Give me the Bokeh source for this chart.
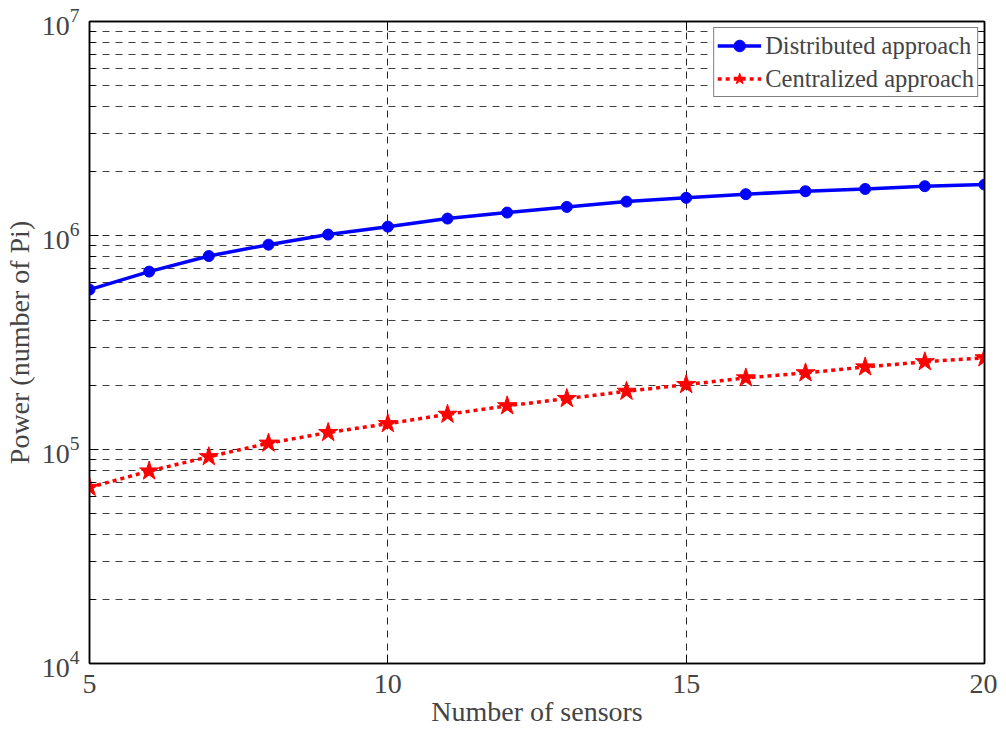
from bokeh.plotting import figure
from bokeh.models import (FixedTicker, LogTickFormatter, BasicTickFormatter, LogAxis, LinearAxis,
                          Range1d, Legend, LegendItem)
from bokeh.embed import file_html
from bokeh.resources import INLINE

sensors = [5, 6, 7, 8, 9, 10, 11, 12, 13, 14, 15, 16, 17, 18, 19, 20]
distributed = [5.59e5, 6.78e5, 8.02e5, 9.06e5, 1.01e6, 1.10e6, 1.20e6, 1.28e6,
               1.36e6, 1.44e6, 1.50e6, 1.56e6, 1.61e6, 1.65e6, 1.70e6, 1.73e6]
centralized = [6.65e4, 7.93e4, 9.25e4, 1.07e5, 1.20e5, 1.32e5, 1.46e5, 1.60e5,
               1.73e5, 1.87e5, 2.01e5, 2.16e5, 2.28e5, 2.43e5, 2.57e5, 2.68e5]
x_ticks = [5, 10, 15, 20]
y_ticks = [1e4, 1e5, 1e6, 1e7]
y_minor = [m * d for d in [1e4, 1e5, 1e6] for m in range(2, 10)]

FONT = "Liberation Serif"

p = figure(frame_width=895, frame_height=642, x_range=Range1d(5, 20), y_range=Range1d(1e4, 1e7),
           y_axis_type="log", output_backend="svg", toolbar_location=None,
           min_border_left=82, min_border_right=13, min_border_top=21, min_border_bottom=40)
p.background_fill_color = "white"
p.border_fill_color = "white"
p.outline_line_color = "black"
p.outline_line_width = 1.5

# axes styling
xa = p.xaxis[0]
xa.ticker = FixedTicker(ticks=x_ticks)
xa.axis_label = "Number of sensors"
ya = p.yaxis[0]
ya.ticker = FixedTicker(ticks=y_ticks, minor_ticks=y_minor)
ya.formatter = LogTickFormatter()
ya.axis_label = "Power (number of Pi)"

for ax in (xa, ya):
    ax.axis_label_text_font = FONT
    ax.axis_label_text_font_style = "normal"
    ax.axis_label_text_font_size = "28px"
    ax.major_label_text_font = FONT
    ax.major_label_text_font_size = "28px"
    ax.axis_line_color = "black"
    ax.axis_line_width = 1.5
    ax.major_tick_in = 9
    ax.major_tick_out = 0
    ax.minor_tick_in = 6
    ax.minor_tick_out = 0
    ax.major_tick_line_color = "black"
    ax.minor_tick_line_color = "black"
xa.minor_tick_line_color = None
xa.major_label_standoff = 11
xa.axis_label_standoff = 0
ya.major_label_standoff = 10
ya.axis_label_standoff = 4

# mirrored axes (box with ticks on all sides)
ra = LogAxis(ticker=FixedTicker(ticks=y_ticks, minor_ticks=y_minor), formatter=BasicTickFormatter())
ta = LinearAxis(ticker=FixedTicker(ticks=x_ticks))
for a in (ra, ta):
    a.major_label_text_font_size = "1px"
    a.major_label_text_color = None
    a.major_label_standoff = 0
    a.major_tick_in = 9
    a.major_tick_out = 0
    a.minor_tick_in = 6
    a.minor_tick_out = 0
    a.axis_line_color = "black"
    a.axis_line_width = 1.5
ta.minor_tick_line_color = None
p.add_layout(ra, "right")
p.add_layout(ta, "above")

# grids
p.xgrid.ticker = FixedTicker(ticks=x_ticks)
p.xgrid.grid_line_color = "black"
p.xgrid.grid_line_alpha = 0.85
p.xgrid.grid_line_dash = "7 6"
p.ygrid.ticker = FixedTicker(ticks=y_ticks, minor_ticks=y_minor)
p.ygrid.grid_line_color = "black"
p.ygrid.grid_line_alpha = 0.85
p.ygrid.grid_line_dash = "7 6"
p.ygrid.minor_grid_line_color = "black"
p.ygrid.minor_grid_line_alpha = 0.75
p.ygrid.minor_grid_line_dash = "7 6"

# data
l1 = p.line(sensors, distributed, line_color="blue", line_width=3.5)
s1 = p.scatter(sensors, distributed, marker="circle", size=11, fill_color="blue", line_color="blue")
l2 = p.line(sensors, centralized, line_color="red", line_width=3.5, line_dash="4 4")
s2 = p.scatter(sensors, centralized, marker="star", size=20, fill_color="red", line_color="red")

legend = Legend(items=[LegendItem(label="Distributed approach", renderers=[l1, s1]),
                       LegendItem(label="Centralized approach", renderers=[l2, s2])],
                location="top_right")
legend.label_text_font = FONT
legend.label_text_font_size = "24.5px"
legend.border_line_color = "black"
legend.border_line_width = 1
legend.glyph_width = 44
legend.glyph_height = 29
legend.label_height = 29
legend.spacing = 4
legend.padding = 3
legend.margin = 6
legend.label_standoff = 4
legend.background_fill_alpha = 1
p.add_layout(legend)

open("out.html", "w").write(file_html(p, INLINE))
